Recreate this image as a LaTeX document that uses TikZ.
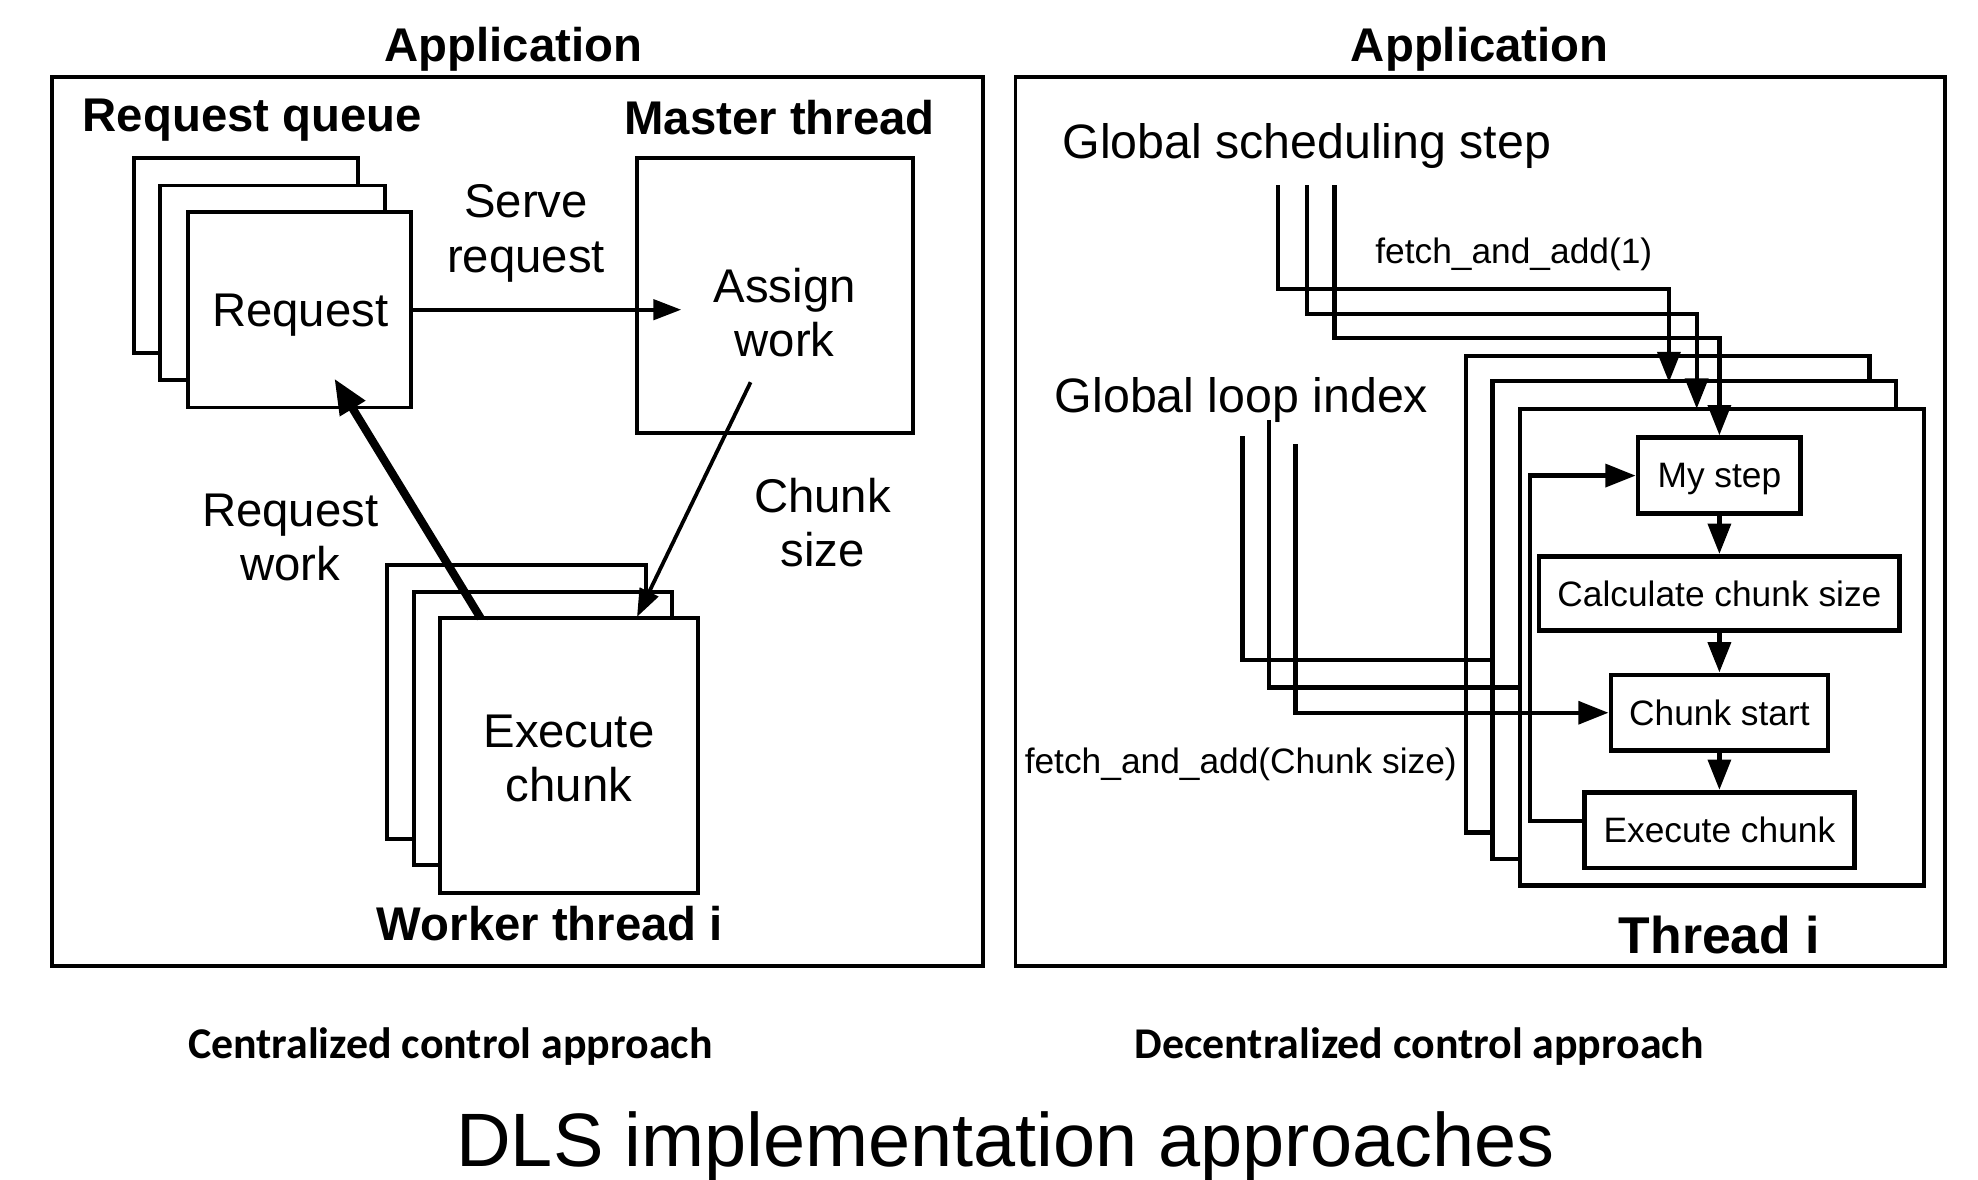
\documentclass[tikz,border=0pt]{standalone}
\usepackage{fontspec}
\setmainfont{Liberation Sans}
\newfontfamily\capfont{Carlito}
\usetikzlibrary{arrows.meta}
\begin{document}
\begin{tikzpicture}[x=1pt,y=-1pt,
  box/.style={draw, line width=3pt, fill=white, inner sep=0},
  ibox/.style={draw, line width=3.8pt, fill=white, inner sep=0},
  txt/.style={inner sep=0, align=center, font=\fontsize{37.5}{43}\selectfont},
  gtxt/.style={inner sep=0, align=center, font=\fontsize{38.3}{44}\selectfont},
  btxt/.style={inner sep=0, align=center, font=\fontsize{37.5}{43}\selectfont\bfseries},
  stxt/.style={inner sep=0, align=center, font=\fontsize{28}{32}\selectfont},
  arr/.style={line width=3pt, -{Triangle[length=22pt,width=16pt]}},
  wire/.style={line width=3.5pt},
  warr/.style={line width=3.5pt, -{Triangle[length=24pt,width=18pt]}},
  capt/.style={inner sep=0, font=\capfont\bfseries\fontsize{34.8}{40}\selectfont},
  ]
\useasboundingbox (0,0) rectangle (1568,935);

% ---------------- Left panel ----------------
\node[box, minimum width=738pt, minimum height=705pt] (panelL) at (410,413.5) {};
\node[btxt] (appL) at (407,39) {Application};
\node[btxt] (rqlbl) at (200,95) {Request queue};
\node[btxt] (mtlbl) at (618,93) {Master thread};

\node[box, minimum width=178pt, minimum height=155pt] (rq3) at (195,202.5) {};
\node[box, minimum width=178pt, minimum height=154pt] (rq2) at (216,224) {};
\node[box, minimum width=177pt, minimum height=155pt] (rq1) at (237.5,245.5) {};
\node[txt] (rqtxt) at (238,250) {Request};

\node[box, minimum width=219pt, minimum height=218pt] (master) at (614.5,234) {};
\node[txt] (assign) at (622,248) {Assign\\work};
\node[txt] (serve) at (417,185) {Serve\\request};
\coordinate (serveEnd) at (540,245.5);
\draw[arr] (rq1.east) -- (serveEnd);

\node[box, minimum width=205pt, minimum height=217pt] (w3) at (409.5,556.5) {};
\node[box, minimum width=205pt, minimum height=217pt] (w2) at (430.5,577.5) {};
\node[box, minimum width=204pt, minimum height=218pt] (w1) at (451,599) {};
\node[txt] (exectxt) at (451,601) {Execute\\chunk};
\node[btxt] (wtlbl) at (436,732) {Worker thread i};

\coordinate (rwS) at (381,490);
\coordinate (rwE) at (265,300);
\draw[line width=6.5pt, -{Triangle[length=28pt,width=22pt]}] (rwS) -- (rwE);
\node[txt] (rwtxt) at (230,426) {Request\\work};

\coordinate (csS) at (595,303);
\coordinate (csE) at (505,489);
\draw[arr] (csS) -- (csE);
\node[txt] (cstxt) at (652,414.5) {Chunk\\size};

% ---------------- Right panel ----------------
\node[box, minimum width=737pt, minimum height=705pt] (panelR) at (1173.5,413.5) {};
\node[btxt] (appR) at (1173,39) {Application};
\node[gtxt, anchor=west] (gss) at (842,116) {Global scheduling step};
\node[stxt] (faa1) at (1200,202) {fetch\_and\_add(1)};
\node[gtxt, anchor=west] (gli) at (836,317) {Global loop index};
\node[stxt, anchor=east] (faacs) at (1155,606) {fetch\_and\_add(Chunk size)};

\node[box, line width=3.5pt, minimum width=320pt, minimum height=378pt] (t3) at (1322,471) {};
\node[box, line width=3.5pt, minimum width=320pt, minimum height=379pt] (t2) at (1343,491.5) {};
\node[box, line width=3.5pt, minimum width=320pt, minimum height=378pt] (t1) at (1365,513) {};
\node[btxt, font=\fontsize{41}{48}\selectfont\bfseries] (thrlbl) at (1363,741) {Thread i};

\node[ibox, minimum width=129pt, minimum height=60pt] (mystep) at (1363,377) {};
\node[stxt] (mysteptxt) at (1363,380) {My step};
\node[ibox, stxt, minimum width=286pt, minimum height=59pt] (calc) at (1363,470.5) {Calculate chunk size};
\node[ibox, stxt, minimum width=172pt, minimum height=60pt] (cstart) at (1363,565) {Chunk start};
\node[ibox, stxt, minimum width=214pt, minimum height=60pt] (exec) at (1363,658) {Execute chunk};

\draw[warr] (mystep.south) -- (calc.north);
\draw[warr] (calc.south) -- (cstart.north);
\draw[warr] (cstart.south) -- (exec.north);

\coordinate (loopx) at (1213,651);
\draw[warr] (exec.west |- loopx) -- (loopx) |- (mystep.west);

% global scheduling step wires
\coordinate (g1a) at (1013,147);
\coordinate (g1k) at (1323,229);
\coordinate (g1d) at (1323,303);
\draw[warr] (g1a) |- (g1k) -- (g1d);
\coordinate (g2a) at (1036,147);
\coordinate (g2k) at (1345,249);
\coordinate (g2d) at (1345,324);
\draw[warr] (g2a) |- (g2k) -- (g2d);
\coordinate (g3a) at (1058,147);
\coordinate (g3k) at (1363,268);
\draw[warr] (g3a) |- (g3k) -- (mystep.north);

% global loop index wires
\coordinate (l1a) at (985,346);
\coordinate (l1e) at (1183,523);
\draw[wire] (l1a) |- (l1e);
\coordinate (l2a) at (1006,333);
\coordinate (l2e) at (1205,545);
\draw[wire] (l2a) |- (l2e);
\coordinate (l3a) at (1027,352);
\draw[warr] (l3a) |- (cstart.west);

% ---------------- Captions ----------------
\node[capt] (cap1) at (357,830) {Centralized control approach};
\node[capt] (cap2) at (1125,830) {Decentralized control approach};
\node[inner sep=0, font=\fontsize{60}{70}\selectfont] (title) at (797,909) {DLS implementation approaches};
\end{tikzpicture}
\end{document}
